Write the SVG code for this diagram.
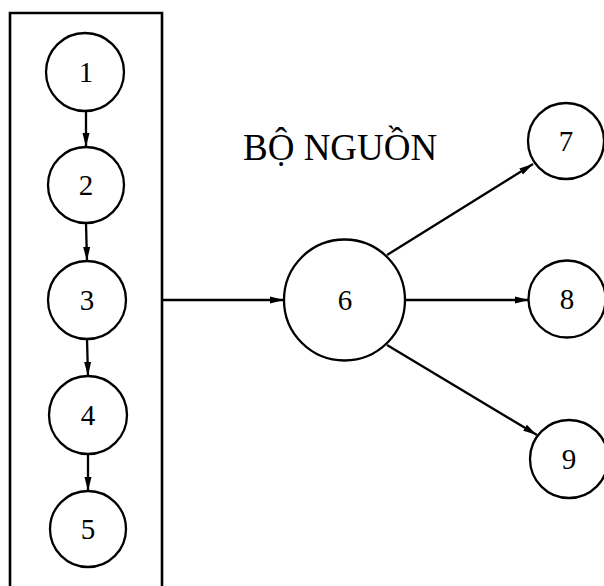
<svg xmlns="http://www.w3.org/2000/svg" width="604" height="586" viewBox="0 0 604 586">
  <style>
    .node circle { fill: #fff; stroke: #000; stroke-width: 2.3; }
    .node text { font-family: "Liberation Serif", "DejaVu Serif", serif; font-size: 29px; text-anchor: middle; fill: #000; }
    .edge { stroke: #000; stroke-width: 2.3; fill: none; marker-end: url(#arrow); }
    .label { font-family: "Liberation Serif", "DejaVu Serif", serif; font-size: 37px; fill: #000; }
  </style>
  <defs>
    <marker id="arrow" markerUnits="userSpaceOnUse" markerWidth="15" markerHeight="9" refX="14" refY="4.5" orient="auto">
      <path d="M0,1 L14,4.5 L0,8 Z" fill="#000"/>
    </marker>
  </defs>
  <rect width="604" height="586" fill="#fff"/>

  <!-- source block frame, open at the bottom -->
  <path id="source-block" d="M10,600 L10,13 L162,13 L162,600" fill="none" stroke="#000" stroke-width="2.6"/>
  <text class="label" x="243" y="160">BỘ NGUỒN</text>

  <g id="connectors">
    <line class="edge" x1="86" y1="111" x2="86" y2="147"/>
    <line class="edge" x1="86" y1="223" x2="87" y2="261"/>
    <line class="edge" x1="87" y1="339" x2="88" y2="376"/>
    <line class="edge" x1="88" y1="454" x2="88" y2="491"/>
    <line class="edge" x1="162" y1="300" x2="284" y2="300"/>
    <line class="edge" x1="387" y1="255" x2="533" y2="164"/>
    <line class="edge" x1="405" y1="300" x2="529" y2="300"/>
    <line class="edge" x1="387" y1="345" x2="537" y2="435"/>
  </g>

  <g id="n1" class="node"><circle cx="85" cy="72" r="39"/><text x="86" y="82">1</text></g>
  <g id="n2" class="node"><circle cx="86" cy="185" r="38"/><text x="86" y="195">2</text></g>
  <g id="n3" class="node"><circle cx="87" cy="300" r="39"/><text x="87" y="310">3</text></g>
  <g id="n4" class="node"><circle cx="88" cy="415" r="39"/><text x="88" y="425">4</text></g>
  <g id="n5" class="node"><circle cx="88" cy="529" r="38"/><text x="88" y="539">5</text></g>
  <g id="n6" class="node"><circle cx="344.5" cy="300" r="60.5"/><text x="345" y="310">6</text></g>
  <g id="n7" class="node"><circle cx="566" cy="141" r="38"/><text x="566" y="151">7</text></g>
  <g id="n8" class="node"><circle cx="567" cy="299" r="38.5"/><text x="567" y="309">8</text></g>
  <g id="n9" class="node"><circle cx="569" cy="459" r="39"/><text x="569" y="469">9</text></g>
</svg>
